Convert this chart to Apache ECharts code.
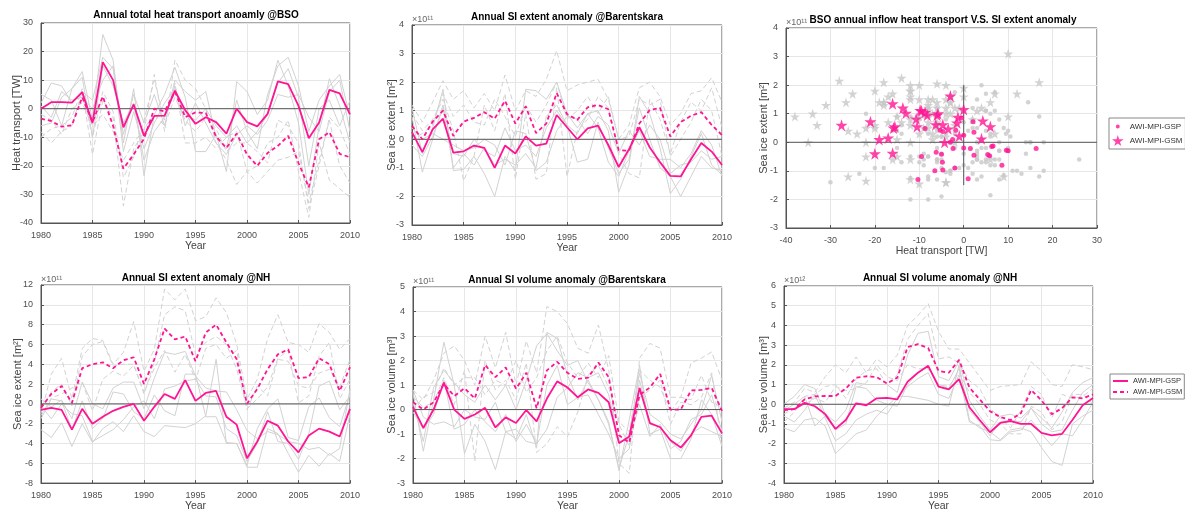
<!DOCTYPE html>
<html>
<head>
<meta charset="utf-8">
<script src="https://cdn.jsdelivr.net/npm/echarts@6/dist/echarts.min.js"></script>
<style>html,body{margin:0;padding:0;background:#fff}#chart{width:1185px;height:513px}</style>
</head>
<body>
<div id="chart"></div>
<script>
var years = [1980,1981,1982,1983,1984,1985,1986,1987,1988,1989,1990,1991,1992,1993,1994,1995,1996,1997,1998,1999,2000,2001,2002,2003,2004,2005,2006,2007,2008,2009,2010];

// total heat transport anomaly @BSO [TW]
var heatGSP = [0,2.3,2.3,2.1,5.8,-5,16.3,10,-6.5,1.5,-9.5,-2.5,-2.4,6.3,-0.5,-5.3,-3,-4.7,-8.7,0,-4.7,-6.2,-1.8,9.6,8.6,1,-10.3,-4.8,6.6,5.4,-2];
var heatGSM = [-3.5,-4.3,-6.3,-5.8,4,-4.7,4.3,-6,-21,-16,-10.5,0,-1,6,-3,-1.3,-1.5,-9.8,-13.7,-8.7,-16,-20,-15.5,-13,-9.5,-19,-27.5,-10.7,-8.2,-15.8,-17];
var heatGreySolid = [
  [5,3,-6,7,13,-4,26,17,-12,7,-23.5,-2,5,14.5,4,-15,-15,-9,-22,9.5,6,-2,3,17,8,-5,-30,-6,10.5,1,-12],
  [2,9,8,2,6,3,18,14,-9,5,-5,5,-6,10,6,3,6,-10,-14,3,-8,-14,5,15,18,8,-8,3,8,12,-3],
  [-6,-5,4,7,11,-10,15,8,-5,2,-18,-8,-3,8,-6,2,-5,-12,-16,-9,-6,-9,-4,5,4,5,-3,-8,6,10,-8],
  [1,-3,6,3,4,0,10,15,-15,-1,-14,-5,2,7,-2,-4,0,-6,-10,-6,-12,-8,-2,9,14,4,-20,0,3,-6,3]
];
var heatGreyDash = [
  [-8,-12,-8,-6,6,-16,3,-3,-34,-14,-8,12,-8,17,10,7,0,-12,-18,-26.5,-22,-20,-12,-10,-4,-22,-38,-12,-25,-28,-31],
  [-10,-7,-6,-3,7,-10,6,-1,-24,-17,-4,10,-4,9,-12,-12,-10,-14,-10,-8,-22,-26,-22,-18,-17,-15,-33,-18,-4,-20,-26],
  [-2,-4,-9,0,2,-6,-2,-8,-18,-12,-7,-2,-6,4,-4,-8,-3,-7,-15,-12,-12,-15,-19,-4,-6,-12,-35,-20,-3,-7,-16]
];

// SI extent anomaly @Barentskara [1e11 m2]
var bkExtGSP = [0.25,-0.45,0.35,0.72,-0.47,-0.42,-0.22,-0.3,-1.0,-0.22,-0.5,0.1,-0.22,-0.15,0.85,0.42,0.0,0.38,0.48,-0.2,-0.97,-0.35,0.42,-0.28,-0.8,-1.28,-1.3,-0.7,-0.13,-0.43,-0.9];
var bkExtGSM = [0.47,0.0,0.62,1.0,0.12,0.62,0.75,0.95,0.72,1.35,0.55,1.15,0.22,0.55,1.62,0.88,0.68,1.12,1.2,1.05,-0.38,-0.4,0.55,1.02,1.1,0.1,0.6,0.82,0.95,0.5,0.15];
var bkExtGreySolid = [
  [1.1,-0.5,0.4,1.75,-1.1,-1.05,-0.6,-1.2,-2.0,-0.6,-1.1,1.75,1.7,1.4,2.0,0.9,0.4,0.9,1.0,0.3,-1.85,-0.9,1.5,0.9,-0.3,-1.9,-1.4,-0.6,0.2,-0.9,-1.25],
  [0.8,-1.15,0.0,1.2,-0.5,-0.6,0.0,-0.4,-0.6,0.4,-0.4,-0.2,-0.6,0.4,1.0,0.5,-0.8,-0.7,0.6,-0.3,-1.2,-0.7,1.1,0.0,-1.0,-1.3,-2.0,-1.3,-0.6,-1.0,-1.1],
  [-0.2,-0.6,0.1,1.1,-1.0,-0.5,-0.9,-0.3,-0.9,-0.7,-0.9,-0.5,-1.0,0.8,1.2,0.5,0.2,0.9,0.4,-0.8,-1.3,-0.4,0.3,-0.6,-0.7,-0.7,-1.0,-0.5,0.3,-0.2,-1.3],
  [0.4,0.0,0.2,0.0,-0.2,-0.4,-0.3,0.0,-0.2,-0.9,0.3,0.2,-1.1,-0.8,0.3,0.8,0.7,0.2,0.8,0.5,-0.5,0.3,-0.2,0.5,0.0,-1.2,-0.9,-0.8,-0.4,-0.7,-0.6]
];
var bkExtGreyDash = [
  [1.2,0.6,1.3,2.05,1.4,1.7,1.1,1.6,1.0,2.25,1.0,1.7,1.5,2.1,3.1,1.7,1.9,2.0,2.1,1.4,0.0,0.5,1.8,2.0,1.5,0.5,0.9,1.6,1.7,2.15,1.3],
  [0.9,0.3,0.7,1.4,0.3,-1.45,-0.6,1.2,0.3,1.6,-1.4,0.9,-1.4,-1.2,1.8,-1.3,0.3,0.7,1.5,1.1,-0.5,-1.2,-1.35,1.4,0.7,-0.5,0.6,1.3,1.0,1.8,0.4],
  [0.0,0.2,0.5,1.6,0.8,1.2,0.6,0.5,1.4,0.8,0.1,1.2,0.6,1.2,2.0,0.7,1.0,1.5,0.9,1.5,0.0,0.1,1.4,1.2,1.4,-0.6,0.0,0.6,1.4,1.0,-0.6]
];

// SI extent anomaly @NH [1e11 m2]
var nhExtGSP = [-0.6,-0.4,-0.6,-2.6,-0.5,-2.0,-1.3,-0.7,-0.3,0.0,-1.7,-0.3,1.0,0.5,2.4,0.3,1.1,1.3,-1.3,-2.1,-5.5,-3.8,-1.7,-2.2,-3.8,-4.9,-3.2,-2.5,-2.8,-3.3,-0.5];
var nhExtGSM = [-0.4,1.0,1.8,0.1,3.6,4.0,4.2,3.6,4.4,4.7,2.0,4.5,7.6,6.5,6.8,4.3,7.2,8.0,6.2,4.5,0.0,1.5,3.5,5.0,5.5,2.6,2.7,4.6,4.0,1.3,3.7];
var nhExtGreySolid = [
  [-2.6,-3.4,-1.9,-4.3,-2.0,-3.9,-2.5,-1.8,-2.8,-1.2,-2.8,-3.3,-2.2,-2.3,-2.4,-2.0,-1.2,4.5,-4.0,-4.0,-6.4,-6.4,-2.5,-3.0,-5.0,-6.9,-5.2,-6.3,-5.0,-5.8,-1.0],
  [0.5,-0.3,0.4,-1.5,2.2,0.0,-0.5,1.6,2.2,2.2,-0.5,2.6,5.2,5.0,5.3,2.8,1.6,1.3,1.2,-0.6,-2.7,-3.5,-2.8,-3.1,-3.8,-4.0,-4.6,-4.4,-5.2,-4.5,1.5],
  [-0.2,-1.5,0.0,-1.0,-1.2,-3.8,-3.2,-2.6,-1.6,-0.3,0.3,-1.5,1.5,1.8,2.3,2.5,0.8,0.7,-2.5,-3.2,-5.8,-4.0,-0.8,-3.8,-4.0,-5.6,-3.0,1.8,2.3,-0.6,0.8],
  [-1.5,0.5,0.3,-2.6,0.3,-2.5,-1.5,1.2,1.0,-0.8,-1.5,0.9,-0.7,-1.2,3.0,3.0,-1.3,-1.3,-3.9,-4.0,-6.2,-2.5,-0.5,0.5,-3.4,-3.7,-0.3,0.6,-1.4,-2.3,1.0]
];
var nhExtGreyDash = [
  [-1.0,3.0,4.6,0.5,5.6,6.6,6.4,4.0,5.2,8.3,3.3,5.5,11.6,10.5,11.6,8.4,8.8,10.7,9.2,6.0,0.5,2.5,6.6,9.0,6.2,6.0,5.2,8.1,7.2,5.5,6.6],
  [-0.5,1.2,2.0,-0.2,4.8,6.0,6.3,3.8,4.0,4.0,1.0,4.2,9.0,9.8,9.4,5.0,6.2,6.8,6.0,3.5,-0.5,0.5,1.7,4.6,5.4,0.1,0.8,4.8,6.2,0.5,2.5],
  [-1.2,0.6,1.0,1.6,2.2,-0.7,2.5,3.3,2.8,3.9,1.2,3.6,5.4,3.2,5.0,2.4,5.6,6.0,4.6,5.4,-0.6,1.8,0.8,4.5,4.3,1.8,1.6,3.1,3.5,1.7,4.5]
];

// SI volume anomaly @Barentskara [1e11 m3]
var bkVolGSP = [0.1,-0.75,0.0,1.1,0.0,-0.38,-0.2,0.07,-0.73,-0.32,-0.55,-0.02,-0.48,0.45,1.15,0.9,0.5,0.82,0.68,0.3,-1.37,-1.1,0.88,-0.55,-0.72,-1.25,-1.55,-1.05,-0.3,-0.25,-0.97];
var bkVolGSM = [0.3,0.0,0.3,1.05,0.55,0.87,0.45,1.82,1.32,1.72,0.85,1.5,0.05,1.6,1.95,1.5,1.25,1.3,1.92,1.32,-1.05,-1.35,0.6,0.9,1.45,0.0,0.0,0.78,0.8,0.88,-0.05];
var bkVolGreySolid = [
  [0.7,-1.7,0.4,2.75,1.0,-1.8,-0.6,-1.3,-2.45,-0.9,-1.2,-0.2,-1.55,3.15,2.9,1.4,0.4,1.2,0.4,-0.5,-2.5,-0.4,1.8,-1.0,-0.8,-2.0,-2.0,-1.2,0.4,-0.2,-1.5],
  [0.3,-1.3,0.9,1.6,1.1,0.6,0.3,1.0,0.4,1.0,0.0,1.2,2.6,3.1,2.4,1.8,2.0,1.1,0.4,-0.6,-2.4,-1.0,1.5,-0.2,-0.5,-1.0,-1.2,-0.6,0.0,1.4,-0.5],
  [-0.1,-0.8,-0.2,1.2,-0.8,-0.6,0.0,-0.5,-0.9,-0.2,-1.3,-0.6,-1.4,1.0,1.8,0.2,0.5,0.6,-0.2,-1.0,-2.0,-1.6,1.2,-0.6,-0.7,-1.3,-1.7,-1.0,-0.7,-0.9,-1.1],
  [0.8,-0.3,-0.6,-0.5,-0.7,0.0,-0.3,-0.4,0.3,-0.9,-0.8,-1.3,-1.4,-0.8,0.5,0.9,1.5,1.3,1.5,0.6,-1.3,-1.2,0.2,-1.1,-0.6,-1.6,-1.3,-0.4,-0.2,0.6,-0.9]
];
var bkVolGreyDash = [
  [0.8,0.4,1.2,2.3,2.6,2.0,1.0,3.0,1.7,3.15,1.0,2.8,1.5,4.2,4.0,3.5,2.5,2.3,3.45,1.6,-2.2,-2.6,2.1,2.7,2.5,0.5,0.5,1.9,2.1,2.35,1.2],
  [0.5,0.1,0.3,1.3,0.2,1.6,-2.1,2.0,0.8,1.2,0.4,1.9,-1.75,-1.4,-0.7,-1.1,-0.1,1.4,1.8,0.9,-0.6,-1.5,0.5,0.8,1.2,-0.6,0.3,0.2,0.5,1.5,-1.6],
  [0.0,0.5,0.7,1.7,1.0,1.3,1.3,0.6,1.2,1.0,2.0,0.7,1.3,2.4,3.0,1.9,1.3,1.9,1.3,2.2,-0.5,-0.9,1.6,1.2,0.9,-0.1,0.5,0.4,1.4,0.3,0.1]
];

// SI volume anomaly @NH [1e12 m3]
var nhVolGSP = [-0.25,-0.25,0.07,-0.1,-0.5,-1.25,-0.8,0.05,-0.05,0.3,0.32,0.25,1.15,1.6,1.95,0.9,0.75,1.27,-0.15,-0.8,-1.42,-0.95,-0.85,-1.0,-1.0,-1.45,-1.58,-1.5,-0.8,-0.05,0.32];
var nhVolGSM = [-0.3,-0.25,0.25,0.4,0.42,0.42,0.8,1.35,1.42,1.38,1.05,1.35,2.9,3.05,2.85,1.7,1.6,2.25,0.85,0.25,-0.35,-0.65,-0.8,-0.45,0.72,0.2,-0.5,-0.2,0.35,0.3,0.5];
var nhVolGreySolid = [
  [-1.2,-1.4,-0.8,-0.7,-1.1,-2.5,-2.0,-1.5,-1.3,-0.6,-0.1,0.4,0.4,0.3,0.2,0.0,-0.1,2.0,-0.8,-1.2,-1.4,-1.8,-1.3,-1.2,-1.4,-2.2,-2.9,-3.1,-1.0,-0.6,-0.3],
  [0.0,0.4,1.0,0.8,-0.5,-0.9,-0.3,1.1,1.0,1.0,1.0,0.6,2.5,3.6,3.7,1.4,1.2,2.2,0.2,-0.6,-1.3,-0.6,-0.5,-0.7,-0.2,-0.7,-1.2,-0.4,0.6,1.1,1.35],
  [-0.6,-0.9,-0.3,0.5,-0.7,-1.85,-1.5,-0.8,-0.5,-0.3,-0.5,0.3,0.9,1.3,1.6,0.5,0.3,1.5,-0.9,-1.1,-1.8,-1.85,-1.4,-1.3,-0.8,-1.5,-2.1,-1.5,-1.6,-0.8,0.1],
  [-0.3,0.0,0.4,-1.1,-0.6,-1.3,-1.0,0.9,0.8,0.2,0.0,-0.1,1.0,1.6,1.9,1.0,0.8,1.8,-0.3,-0.9,-1.6,-0.9,-0.8,-0.9,-0.2,-1.0,-1.4,-1.3,-0.3,0.6,1.0]
];
var nhVolGreyDash = [
  [-0.2,0.1,0.8,0.6,1.4,2.0,1.6,2.4,1.6,2.3,1.9,2.5,4.0,4.5,5.1,3.7,2.8,2.8,2.1,1.4,0.7,0.9,0.95,1.0,2.15,1.7,1.0,0.9,2.0,1.9,1.75],
  [-0.9,-0.4,0.4,0.5,0.9,1.0,0.3,1.3,1.7,1.8,1.0,1.5,3.3,4.0,4.6,2.3,2.4,2.1,1.2,0.8,-0.2,-0.7,-1.2,-0.3,0.9,0.5,-0.7,0.5,0.3,0.4,0.8],
  [-0.5,-0.2,0.0,0.3,0.1,0.9,0.7,0.8,1.1,2.0,1.4,1.2,2.0,1.8,1.8,1.0,0.9,1.6,0.6,0.0,-0.8,-1.0,-1.5,-1.5,-0.1,-0.4,-1.3,-0.9,0.5,0.5,0.0]
];

// reference lines of the scatter panel
var scatterZeroH = [[-40, 0], [30, 0]];
var scatterZeroV = [[0, -1.5], [0, 2]];

var pink = '#ff1493';
var greyLine = '#d2d2d2';
var starPath = 'path://M50,0 L61,35 L98,35 L68,57 L79,91 L50,70 L21,91 L32,57 L2,35 L39,35 Z';
// small dot inside a larger box, so the legend dot stays small next to the star
var smallDotPath = 'path://M0,0 L0.01,0 Z M100,100 L99.99,100 Z M50,32 A18,18 0 1 1 49.9,32 Z';
var font = 'Liberation Sans, Arial, sans-serif';

var panels = [
  {title: 'Annual total heat transport anoamly @BSO', cx: 196, ty: 10, grid: {left: 41, top: 23, width: 309, height: 200},
   yMin: -40, yMax: 30, yInt: 10, yName: 'Heat transport [TW]', yGap: 19, exp: null,
   gsp: heatGSP, gsm: heatGSM, greyS: heatGreySolid, greyD: heatGreyDash},
  {title: 'Annual SI extent anomaly @Barentskara', cx: 567, ty: 12, grid: {left: 412, top: 25, width: 310, height: 200},
   yMin: -3, yMax: 4, yInt: 1, yName: 'Sea ice extent [m²]', yGap: 15, exp: '×10¹¹',
   gsp: bkExtGSP, gsm: bkExtGSM, greyS: bkExtGreySolid, greyD: bkExtGreyDash},
  {title: 'BSO annual inflow heat transport V.S. SI extent anomaly', cx: 943, ty: 15, grid: {left: 786, top: 28, width: 311, height: 200},
   yMin: -3, yMax: 4, yInt: 1, yName: 'Sea ice extent [m²]', yGap: 17, exp: '×10¹¹', scatter: true},
  {title: 'Annual SI extent anomaly @NH', cx: 196, ty: 273, grid: {left: 41, top: 285, width: 309, height: 200},
   yMin: -8, yMax: 12, yInt: 2, yName: 'Sea ice extent [m²]', yGap: 18, exp: '×10¹¹',
   gsp: nhExtGSP, gsm: nhExtGSM, greyS: nhExtGreySolid, greyD: nhExtGreyDash},
  {title: 'Annual SI volume anomaly @Barentskara', cx: 567, ty: 275, grid: {left: 413, top: 287, width: 309, height: 200},
   yMin: -3, yMax: 5, yInt: 1, yName: 'Sea ice volume [m³]', yGap: 16, exp: '×10¹¹',
   gsp: bkVolGSP, gsm: bkVolGSM, greyS: bkVolGreySolid, greyD: bkVolGreyDash},
  {title: 'Annual SI volume anomaly @NH', cx: 940, ty: 273, grid: {left: 784, top: 286, width: 309, height: 201},
   yMin: -4, yMax: 6, yInt: 1, yName: 'Sea ice volume [m³]', yGap: 15, exp: '×10¹²',
   gsp: nhVolGSP, gsm: nhVolGSM, greyS: nhVolGreySolid, greyD: nhVolGreyDash}
];

function pairs(vals) {
  return years.map(function (y, i) { return [y, vals[i]]; });
}
function zip(xs, ys) {
  return xs.map(function (x, i) { return [x, ys[i]]; });
}

var grids = [], xAxes = [], yAxes = [], titles = [], series = [], graphics = [];
var axisCommon = {
  axisLine: {show: true, onZero: false, lineStyle: {color: '#555'}},
  axisTick: {show: true, inside: true, length: 3, lineStyle: {color: '#555'}},
  axisLabel: {color: '#4d4d4d', fontSize: 9, fontFamily: font},
  splitLine: {show: true, lineStyle: {color: '#e6e6e6', width: 1}},
  nameTextStyle: {color: '#444', fontSize: 10.5, fontFamily: font}
};

panels.forEach(function (p, k) {
  grids.push(Object.assign({show: true, borderColor: '#555', borderWidth: 1, backgroundColor: '#fff'}, p.grid));
  titles.push({text: p.title, left: p.cx, top: p.ty, textAlign: 'center', padding: 0,
    textStyle: {fontSize: 10, fontWeight: 'bold', color: '#000', fontFamily: font}});
  xAxes.push(Object.assign({}, axisCommon, {
    type: 'value', gridIndex: k,
    min: p.scatter ? -40 : 1980, max: p.scatter ? 30 : 2010, interval: p.scatter ? 10 : 5,
    name: p.scatter ? 'Heat transport [TW]' : 'Year', nameLocation: 'middle', nameGap: 17,
    axisLabel: Object.assign({}, axisCommon.axisLabel, {formatter: function (v) { return String(v); }})
  }));
  yAxes.push(Object.assign({}, axisCommon, {
    type: 'value', gridIndex: k, min: p.yMin, max: p.yMax, interval: p.yInt,
    name: p.yName, nameLocation: 'middle', nameGap: p.yGap, nameMoveOverlap: false,
    nameTextStyle: Object.assign({}, axisCommon.nameTextStyle, {fontSize: 11})
  }));
  if (p.exp) {
    graphics.push({type: 'text', left: p.grid.left, top: p.grid.top - 10,
      style: {text: p.exp, fontSize: 9, fill: '#666', fontFamily: font}});
  }

  if (p.scatter) {
    heatGreySolid.forEach(function (h, i) {
      series.push({type: 'scatter', xAxisIndex: k, yAxisIndex: k, silent: true, symbol: 'circle', symbolSize: 4.5,
        itemStyle: {color: '#c8c8c8'}, data: zip(h, bkExtGreySolid[i]), z: 2});
    });
    heatGreyDash.forEach(function (h, i) {
      series.push({type: 'scatter', xAxisIndex: k, yAxisIndex: k, silent: true, symbol: starPath, symbolSize: 10,
        itemStyle: {color: '#c8c8c8'}, data: zip(h, bkExtGreyDash[i]), z: 2});
    });
    [scatterZeroH, scatterZeroV].forEach(function (d) {
      series.push({type: 'line', xAxisIndex: k, yAxisIndex: k, silent: true, symbol: 'none',
        lineStyle: {color: '#555', width: 1}, data: d, z: 3});
    });
    series.push({name: 'sc-GSP', type: 'scatter', xAxisIndex: k, yAxisIndex: k, symbol: 'circle', symbolSize: 5,
      itemStyle: {color: pink}, data: zip(heatGSP, bkExtGSP), z: 4});
    series.push({name: 'sc-GSM', type: 'scatter', xAxisIndex: k, yAxisIndex: k, symbol: starPath, symbolSize: 12,
      itemStyle: {color: pink}, data: zip(heatGSM, bkExtGSM), z: 4});
    return;
  }

  p.greyS.forEach(function (s) {
    series.push({type: 'line', xAxisIndex: k, yAxisIndex: k, silent: true, symbol: 'none',
      lineStyle: {color: greyLine, width: 1}, data: pairs(s), z: 2});
  });
  p.greyD.forEach(function (s) {
    series.push({type: 'line', xAxisIndex: k, yAxisIndex: k, silent: true, symbol: 'none',
      lineStyle: {color: greyLine, width: 1, type: [5, 3]}, data: pairs(s), z: 2});
  });
  series.push({type: 'line', xAxisIndex: k, yAxisIndex: k, silent: true, symbol: 'none',
    lineStyle: {color: '#555', width: 1}, data: [[1980, 0], [2010, 0]], z: 3});
  series.push({name: 'AWI-MPI-GSP', type: 'line', xAxisIndex: k, yAxisIndex: k, symbol: 'none',
    lineStyle: {color: pink, width: 1.8}, itemStyle: {color: pink}, data: pairs(p.gsp), z: 4});
  series.push({name: 'AWI-MPI-GSM', type: 'line', xAxisIndex: k, yAxisIndex: k, symbol: 'none',
    lineStyle: {color: pink, width: 1.8, type: [4, 3]}, itemStyle: {color: pink}, data: pairs(p.gsm), z: 4});
});

var legendLabels = {'sc-GSP': 'AWI-MPI-GSP', 'sc-GSM': 'AWI-MPI-GSM'};
var legendCommon = {
  orient: 'vertical', backgroundColor: '#fff', borderColor: '#888', borderWidth: 1,
  itemGap: 3, selectedMode: false,
  textStyle: {fontSize: 8, color: '#333', fontFamily: font}
};

var chart = echarts.init(document.getElementById('chart'));
chart.setOption({
  animation: false,
  backgroundColor: '#fff',
  title: titles,
  grid: grids,
  xAxis: xAxes,
  yAxis: yAxes,
  legend: [
    Object.assign({}, legendCommon, {left: 1109, top: 118, padding: [3, 3], itemWidth: 14, itemHeight: 11,
      data: [{name: 'sc-GSP', icon: smallDotPath}, {name: 'sc-GSM'}],
      formatter: function (n) { return legendLabels[n]; }}),
    Object.assign({}, legendCommon, {left: 1110, top: 374, padding: [3, 2], itemWidth: 15, itemHeight: 6,
      itemStyle: {opacity: 0}, textStyle: Object.assign({}, legendCommon.textStyle, {fontSize: 7.5}),
      data: ['AWI-MPI-GSP', 'AWI-MPI-GSM']})
  ],
  graphic: graphics,
  series: series
});
</script>
</body>
</html>
